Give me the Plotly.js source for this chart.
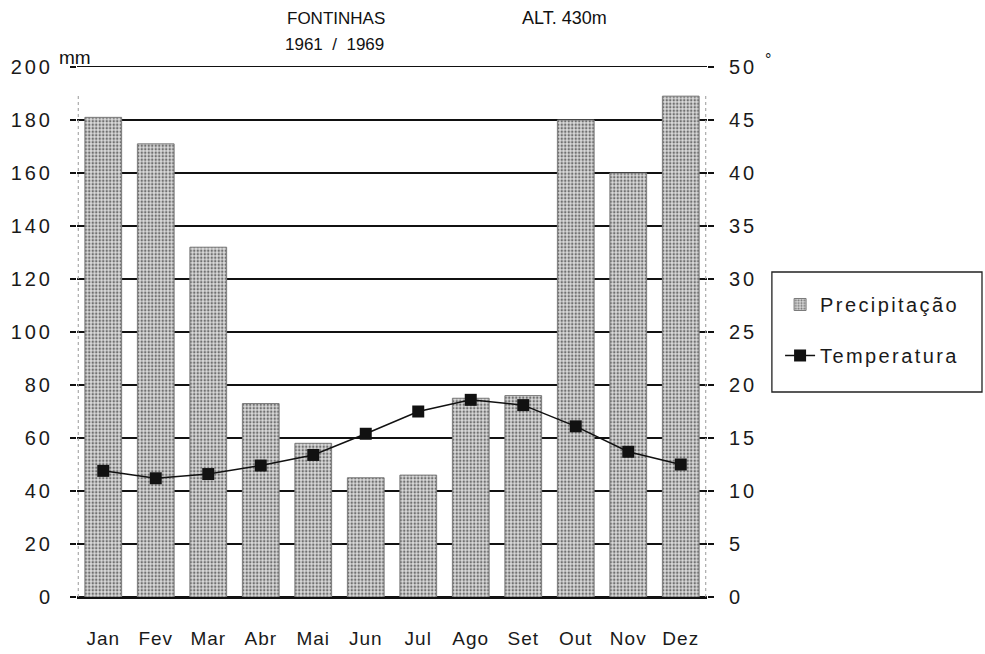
<!DOCTYPE html>
<html>
<head>
<meta charset="utf-8">
<script src="https://cdn.plot.ly/plotly-3.0.1.min.js"></script>
<style>
html,body{margin:0;padding:0;background:#fff;}
#chart{width:985px;height:654px;}
#chart .ytick text, #chart .y2tick text{letter-spacing:3px;}
#chart .xtick text{letter-spacing:1px;}
.legendtext{letter-spacing:2.4px;}
</style>
</head>
<body>
<div id="chart"></div>
<script>
const months = ["Jan","Fev","Mar","Abr","Mai","Jun","Jul","Ago","Set","Out","Nov","Dez"];
const precipitacao = [181, 171, 132, 73, 58, 45, 46, 75, 76, 180, 160, 189];
const temperatura = [11.9, 11.2, 11.6, 12.4, 13.4, 15.4, 17.5, 18.6, 18.1, 16.1, 13.7, 12.5];
const leftTickVals = [0,20,40,60,80,100,120,140,160,180,200];
const leftTickText = ["0","20","40","60","80","100","120","140","160","180","200"];
const rightTickVals = [0,5,10,15,20,25,30,35,40,45,50];
const rightTickText = ["0","5","10","15","20","25","30","35","40","45","50"];
const leftUnit = "mm";
const rightUnit = "°";

const font = "Liberation Sans, Arial, sans-serif";

const traces = [
  {
    type: "bar", name: "Precipitação", x: months, y: precipitacao,
    legendgroup: "a",
    marker: {
      color: "#cbcbcb",
      pattern: {shape: ".", bgcolor: "#dadada", fgcolor: "#707070", size: 3.5, solidity: 0.4},
      line: {color: "#7a7a7a", width: 1}
    },
    hoverinfo: "skip"
  },
  {
    type: "scatter", mode: "lines+markers", name: "Temperatura", x: months, y: temperatura,
    yaxis: "y2", legendgroup: "b",
    line: {color: "#111", width: 1.5},
    marker: {symbol: "square", size: 12, color: "#111"},
    hoverinfo: "skip"
  }
];

const layout = {
  width: 985, height: 654,
  margin: {l: 77, r: 278, t: 67, b: 57},
  paper_bgcolor: "#fff", plot_bgcolor: "#fff",
  font: {family: font, color: "#1a1a1a", size: 17},
  bargap: 0.3,
  showlegend: true,
  legend: {
    x: 1.116, y: 0.5887, xanchor: "left", yanchor: "top",
    bgcolor: "rgba(0,0,0,0)", borderwidth: 0,
    font: {family: font, size: 20, color: "#1a1a1a"},
    tracegroupgap: 22, traceorder: "grouped",
    itemwidth: 30
  },
  xaxis: {
    type: "category", range: [-0.5, 11.5],
    showgrid: false, zeroline: false,
    showline: true, mirror: true, linecolor: "#111", linewidth: 1.5,
    ticks: "", ticklabelstandoff: 24,
    tickfont: {family: font, size: 19, color: "#1a1a1a"}
  },
  yaxis: {
    range: [0, 200], tickvals: leftTickVals, ticktext: leftTickText,
    showgrid: true, gridcolor: "#111", gridwidth: 1.5,
    zeroline: true, zerolinecolor: "#111", zerolinewidth: 1.5,
    ticks: "outside", ticklen: 6, tickcolor: "#111", tickwidth: 1.5,
    ticklabelstandoff: 13,
    tickfont: {family: font, size: 20, color: "#1a1a1a"}
  },
  yaxis2: {
    range: [0, 50], overlaying: "y", side: "right",
    tickvals: rightTickVals, ticktext: rightTickText,
    showgrid: false, zeroline: false,
    ticks: "outside", ticklen: 6, tickcolor: "#111", tickwidth: 1.5,
    ticklabelstandoff: 11,
    tickfont: {family: font, size: 20, color: "#1a1a1a"}
  },
  shapes: [
    {type: "line", xref: "paper", yref: "paper", x0: 0.002, x1: 0.002, y0: 0, y1: 0.95, line: {color: "#999", width: 1, dash: "dot"}},
    {type: "line", xref: "paper", yref: "paper", x0: 0.998, x1: 0.998, y0: 0, y1: 0.95, line: {color: "#999", width: 1, dash: "dot"}},
    {type: "rect", xref: "paper", yref: "paper", x0: 1.103, x1: 1.4365, y0: 0.3868, y1: 0.6132, line: {color: "#222", width: 1.3}, fillcolor: "rgba(0,0,0,0)"}
  ],
  annotations: [
    {text: "FONTINHAS", xref: "paper", yref: "paper", x: 0.330, y: 1.092, xanchor: "left", yanchor: "middle", showarrow: false, font: {family: font, size: 17, color: "#111"}},
    {text: "ALT. 430m", xref: "paper", yref: "paper", x: 0.703, y: 1.092, xanchor: "left", yanchor: "middle", showarrow: false, font: {family: font, size: 18, color: "#111"}},
    {text: "1961\u00a0\u00a0/\u00a0\u00a01969", xref: "paper", yref: "paper", x: 0.327, y: 1.042, xanchor: "left", yanchor: "middle", showarrow: false, font: {family: font, size: 17, color: "#111"}},
    {text: leftUnit, xref: "paper", yref: "paper", x: -0.0325, y: 1.018, xanchor: "left", yanchor: "middle", showarrow: false, font: {family: font, size: 19, color: "#111"}},
    {text: rightUnit, xref: "paper", yref: "paper", x: 1.089, y: 1.015, xanchor: "left", yanchor: "middle", showarrow: false, font: {family: font, size: 16, color: "#111"}}
  ]
};

Plotly.newPlot("chart", traces, layout, {displayModeBar: false, staticPlot: true});
</script>
</body>
</html>
